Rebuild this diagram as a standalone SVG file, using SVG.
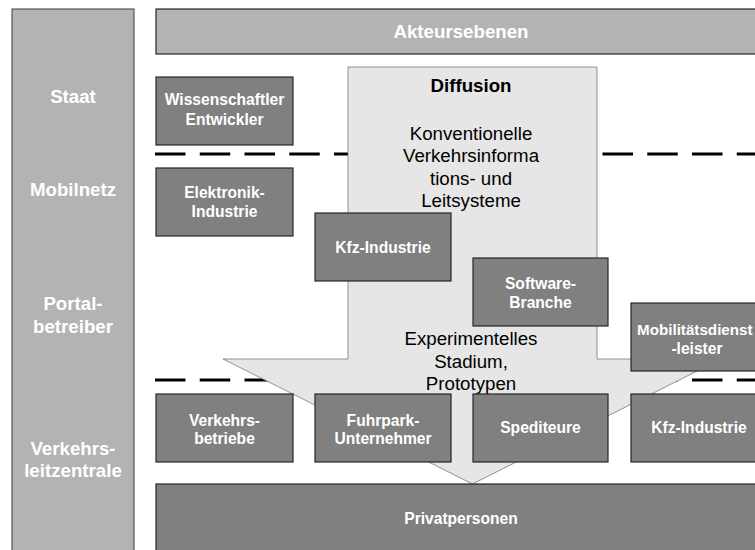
<svg xmlns="http://www.w3.org/2000/svg" width="755" height="550" viewBox="0 0 755 550">
<style>
.col{fill:#b3b3b3;stroke:#3c3c3c;stroke-width:1}
.box{fill:#808080;stroke:#262626;stroke-width:1.2}
.bar{fill:#b3b3b3;stroke:#262626;stroke-width:1.2}
.arrow{fill:#e6e6e6;stroke:#7a7a7a;stroke-width:0.8}
.dash{stroke:#000;stroke-width:3.2;stroke-dasharray:30.5 14.25;fill:none}
.lt{font-family:"Liberation Sans",Arial,sans-serif;font-weight:bold;font-size:18.7px;fill:#fff;text-anchor:middle}
.bt{font-family:"Liberation Sans",Arial,sans-serif;font-weight:bold;font-size:15.6px;fill:#fff;text-anchor:middle}
.at{font-family:"Liberation Sans",Arial,sans-serif;font-size:18.7px;fill:#000;text-anchor:middle}
.ah{font-family:"Liberation Sans",Arial,sans-serif;font-weight:bold;font-size:18.7px;fill:#000;text-anchor:middle}
</style>
<rect width="755" height="550" fill="#fff"/>
<g id="ebenen">
<rect class="col" x="12" y="9" width="122" height="560"/>
<text class="lt" x="73" y="103">Staat</text>
<text class="lt" x="73" y="196">Mobilnetz</text>
<text class="lt" x="73" y="310">Portal-</text>
<text class="lt" x="73" y="332.5">betreiber</text>
<text class="lt" x="73" y="455">Verkehrs-</text>
<text class="lt" x="73" y="476.5">leitzentrale</text>
</g>
<g id="akteursebenen">
<rect class="bar" x="156" y="9" width="610" height="45"/>
<text class="lt" x="461" y="37.5">Akteursebenen</text>
</g>
<g id="connectors">
<line class="dash" x1="155" y1="154" x2="755" y2="154"/>
<line class="dash" x1="155" y1="380" x2="755" y2="380"/>
</g>
<g id="diffusion">
<polygon class="arrow" points="348,67 597,67 597,359 721,359 472.5,484 223,359 348,359"/>
<text class="ah" x="471" y="92">Diffusion</text>
<text class="at" x="471" y="140">Konventionelle</text>
<text class="at" x="471" y="162.3">Verkehrsinforma</text>
<text class="at" x="471" y="184.5">tions- und</text>
<text class="at" x="471" y="206.5">Leitsysteme</text>
<text class="at" x="471" y="345">Experimentelles</text>
<text class="at" x="471" y="367.5">Stadium,</text>
<text class="at" x="471" y="390">Prototypen</text>
</g>
<g id="wissenschaftler">
<rect class="box" x="156" y="77" width="137" height="68"/>
<text class="bt" x="224.5" y="105">Wissenschaftler</text>
<text class="bt" x="224.5" y="125">Entwickler</text>
</g>
<g id="elektronik">
<rect class="box" x="156" y="168" width="137" height="68"/>
<text class="bt" x="224.5" y="198">Elektronik-</text>
<text class="bt" x="224.5" y="217">Industrie</text>
</g>
<g id="kfz1">
<rect class="box" x="315" y="213" width="136" height="68"/>
<text class="bt" x="383" y="252.5">Kfz-Industrie</text>
</g>
<g id="software">
<rect class="box" x="473" y="258" width="135" height="68"/>
<text class="bt" x="540.5" y="288.5">Software-</text>
<text class="bt" x="540.5" y="307.5">Branche</text>
</g>
<g id="mobilitaet">
<rect class="box" x="631" y="303" width="137" height="68"/>
<text class="bt" x="637" y="335" style="text-anchor:start;font-size:15.2px">Mobilitätsdienst</text>
<text class="bt" x="697" y="353.5">-leister</text>
</g>
<g id="verkehrsbetriebe">
<rect class="box" x="156" y="394" width="137" height="68"/>
<text class="bt" x="224.5" y="425.5">Verkehrs-</text>
<text class="bt" x="224.5" y="444">betriebe</text>
</g>
<g id="fuhrpark">
<rect class="box" x="315" y="394" width="136" height="68"/>
<text class="bt" x="383" y="425.5">Fuhrpark-</text>
<text class="bt" x="383" y="444">Unternehmer</text>
</g>
<g id="spediteure">
<rect class="box" x="473" y="394" width="135" height="68"/>
<text class="bt" x="540.5" y="433">Spediteure</text>
</g>
<g id="kfz2">
<rect class="box" x="631" y="394" width="137" height="68"/>
<text class="bt" x="699" y="433">Kfz-Industrie</text>
</g>
<g id="privatpersonen">
<rect class="box" x="156" y="484" width="610" height="80"/>
<text class="bt" x="461" y="524">Privatpersonen</text>
</g>
</svg>
